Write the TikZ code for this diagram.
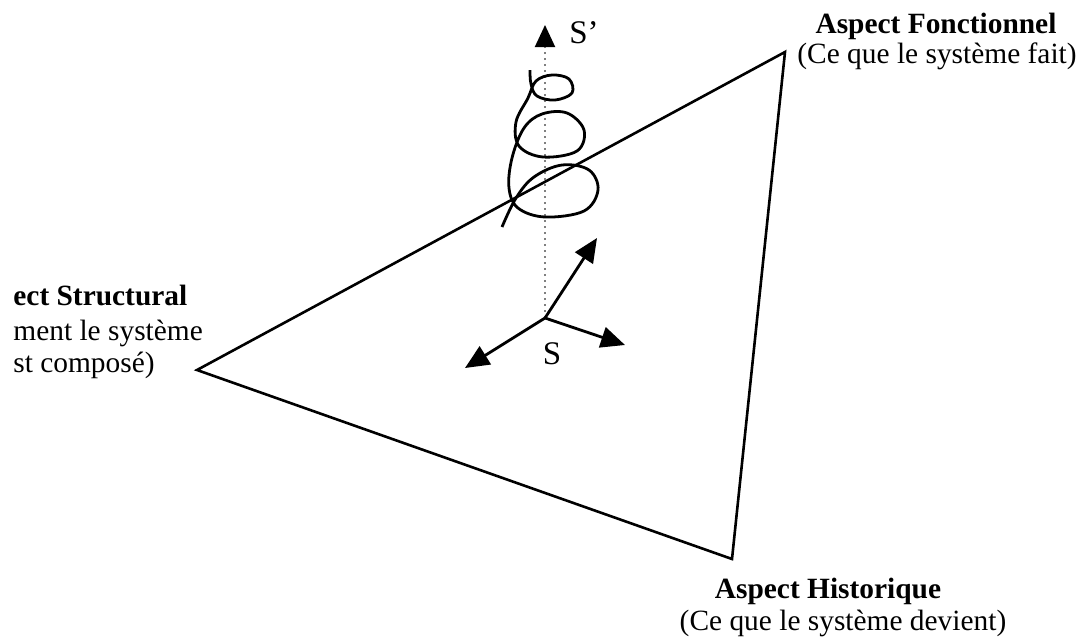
\documentclass[tikz,border=0pt]{standalone}
\usepackage{fontspec}
\setmainfont{Liberation Serif}
\usetikzlibrary{arrows.meta}

\tikzset{
    titre/.style={font=\fontsize{14.7pt}{14pt}\selectfont\bfseries, inner sep=0pt},
    soustitre/.style={font=\fontsize{14.7pt}{14pt}\selectfont, inner sep=0pt},
    repere/.style={font=\fontsize{16.5pt}{16pt}\selectfont, inner sep=0pt},
    vecteur/.style={line width=1.4pt, -{Triangle[length=12pt, width=10.5pt]}}
}

\begin{document}
\begin{tikzpicture}[x=0.5pt, y=-0.5pt]

    \useasboundingbox (0,0) rectangle (1082,639);

    % ==========================================
    % SOMMETS: the three aspects of the system
    % ==========================================
    \coordinate (AF) at (785, 52);
    \coordinate (AS) at (197, 370);
    \coordinate (AH) at (732, 559);

    % Triangle
    \draw[line width=1.3pt, line join=miter] (AF) -- (AS) -- (AH) -- cycle;

    % ==========================================
    % REPERE: the system S and its axes
    % ==========================================
    \coordinate (S) at (545, 318);
    \coordinate (Sp) at (545, 25);
    \coordinate (e1) at (597, 238);
    \coordinate (e2) at (625, 345);
    \coordinate (e3) at (465, 368);

    % Dotted time axis towards S'
    \draw[gray, line width=1pt, dotted,
          -{Triangle[black, length=11pt, width=10pt]}] (S) -- (Sp);

    % Three axes
    \draw[vecteur] (S) -- (e1);
    \draw[vecteur] (S) -- (e2);
    \draw[vecteur] (S) -- (e3);

    \node[repere] (labS) at (552, 354) {S};
    \node[repere] (labSp) at (584, 33) {S’};

    % Spiral of the evolving system
    \draw[line width=1.4pt] plot[smooth, tension=0.6] coordinates {
        (530,70) (531,84) (537,96) (555,100) (572,93) (569,79) (552,75)
        (536,81) (528,98) (516,122) (519,146) (543,157) (577,151) (584,130)
        (567,113) (542,114) (524,128) (512,158) (509,188) (518,208)
        (545,217) (584,211) (598,190) (589,170) (562,165) (534,177)
        (516,198) (502,227)
    };

    % ==========================================
    % LABELS
    % ==========================================
    \node[titre, anchor=base] (tF) at (936, 33) {Aspect Fonctionnel};
    \node[soustitre, anchor=base] (sF) at (937, 63) {(Ce que le système fait)};

    \node[titre, anchor=base west] (tS) at (13, 305) {ect Structural};
    \node[soustitre, anchor=base west] (sS1) at (13, 340) {ment le système};
    \node[soustitre, anchor=base west] (sS2) at (13, 372) {st composé)};

    \node[titre, anchor=base] (tH) at (828, 598) {Aspect Historique};
    \node[soustitre, anchor=base] (sH) at (843, 630) {(Ce que le système devient)};

\end{tikzpicture}
\end{document}
